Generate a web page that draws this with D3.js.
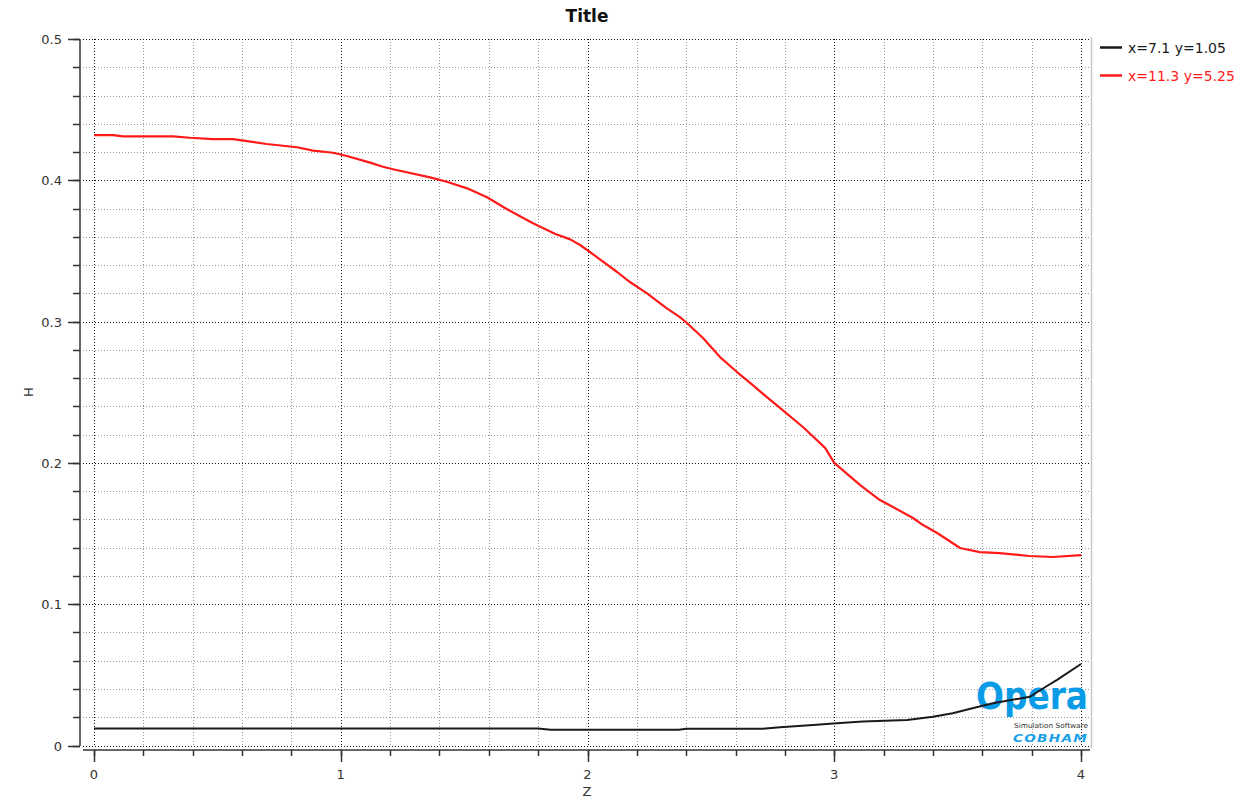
<!DOCTYPE html>
<html>
<head>
<meta charset="utf-8">
<script src="https://cdn.jsdelivr.net/npm/d3@7"></script>
<style>
  html, body { margin: 0; padding: 0; background: #fff; }
  svg { display: block; font-family: "DejaVu Sans", sans-serif; }
</style>
</head>
<body>
<svg id="chart" width="1258" height="802"></svg>
<script>
// Field profile H along Z at two (x, y) positions
const seriesNames = ["x=7.1 y=1.05", "x=11.3 y=5.25"];
const seriesColors = ["#1a1a1a", "#ff1a1a"];

const blackZ = [0, 0.5, 1.0, 1.5, 1.8, 1.85, 2.0, 2.37, 2.4, 2.71, 2.78, 2.915, 3.01, 3.116, 3.295, 3.40, 3.48, 3.56, 3.643, 3.793, 3.862, 3.903, 4.0];
const blackH = [0.012, 0.012, 0.012, 0.012, 0.012, 0.0112, 0.0112, 0.0112, 0.0118, 0.0118, 0.0129, 0.0145, 0.0157, 0.0169, 0.018, 0.0204, 0.0228, 0.0263, 0.0299, 0.0345, 0.0421, 0.0464, 0.0577];

const redZ = [0, 0.077, 0.118, 0.32, 0.389, 0.482, 0.563, 0.70, 0.823, 0.888, 0.969, 1.025, 1.119, 1.171, 1.212, 1.362, 1.43, 1.512, 1.593, 1.674, 1.779, 1.87, 1.93, 1.97, 2.038, 2.12, 2.172, 2.24, 2.32, 2.373, 2.403, 2.468, 2.537, 2.606, 2.67, 2.727, 2.78, 2.873, 2.963, 3.0, 3.104, 3.185, 3.238, 3.319, 3.36, 3.417, 3.51, 3.59, 3.67, 3.79, 3.886, 4.0];
const redH = [0.432, 0.432, 0.4311, 0.4311, 0.4301, 0.4292, 0.4292, 0.4257, 0.4234, 0.421, 0.4195, 0.4172, 0.4125, 0.4096, 0.4078, 0.4021, 0.399, 0.3943, 0.388, 0.3795, 0.3696, 0.362, 0.3582, 0.3542, 0.3457, 0.3351, 0.328, 0.3202, 0.3096, 0.3033, 0.299, 0.2884, 0.2749, 0.2643, 0.2551, 0.2465, 0.2389, 0.2254, 0.2106, 0.2, 0.1844, 0.1737, 0.1688, 0.161, 0.156, 0.1504, 0.1398, 0.1369, 0.1362, 0.1341, 0.1334, 0.1348];

const xMajorTicks = [0, 1, 2, 3, 4];
const xMinorTicks = d3.range(0, 4.0001, 0.2);
const yMajorTicks = [0, 0.1, 0.2, 0.3, 0.4, 0.5];
const yMinorTicks = d3.range(0, 0.5001, 0.02);

const svg = d3.select("#chart");

// plot frame
const frame = { left: 83, right: 1090, top: 39, bottom: 746 };
const x = d3.scaleLinear().domain([0, 4]).range([94, 1081]);
const y = d3.scaleLinear().domain([0, 0.5]).range([745.5, 39]);

// grid: minor first, majors on top
const grid = svg.append("g");
grid.selectAll("line.hmin").data(yMinorTicks).join("line")
  .attr("x1", frame.left).attr("x2", frame.right)
  .attr("y1", d => Math.round(y(d)) + 0.5).attr("y2", d => Math.round(y(d)) + 0.5)
  .attr("stroke", "#9a9a9a").attr("stroke-width", 1).attr("stroke-dasharray", "1,2");
grid.selectAll("line.vmin").data(xMinorTicks).join("line")
  .attr("y1", frame.top).attr("y2", frame.bottom)
  .attr("x1", d => Math.round(x(d)) + 0.5).attr("x2", d => Math.round(x(d)) + 0.5)
  .attr("stroke", "#9a9a9a").attr("stroke-width", 1).attr("stroke-dasharray", "1,2");
grid.selectAll("line.hmaj").data(yMajorTicks).join("line")
  .attr("x1", frame.left).attr("x2", frame.right)
  .attr("y1", d => Math.round(y(d)) + 0.5).attr("y2", d => Math.round(y(d)) + 0.5)
  .attr("stroke", "#111").attr("stroke-width", 1).attr("stroke-dasharray", "1,2");
grid.selectAll("line.vmaj").data(xMajorTicks).join("line")
  .attr("y1", frame.top).attr("y2", frame.bottom)
  .attr("x1", d => Math.round(x(d)) + 0.5).attr("x2", d => Math.round(x(d)) + 0.5)
  .attr("stroke", "#111").attr("stroke-width", 1).attr("stroke-dasharray", "1,2");

// right border of the plot
svg.append("line")
  .attr("x1", 1091.5).attr("x2", 1091.5).attr("y1", 37).attr("y2", 748)
  .attr("stroke", "#c8c8c8").attr("stroke-width", 1.5);

// Opera / Cobham logo in the lower right corner
const logo = svg.append("g");
logo.append("text")
  .attr("x", 976).attr("y", 709)
  .attr("textLength", 112).attr("lengthAdjust", "spacingAndGlyphs")
  .attr("font-size", 37).attr("font-weight", "bold")
  .attr("fill", "#0a9be6").text("Opera");
logo.append("text")
  .attr("x", 1014).attr("y", 728)
  .attr("textLength", 74).attr("lengthAdjust", "spacingAndGlyphs")
  .attr("font-size", 7).attr("fill", "#333").text("Simulation Software");
logo.append("text")
  .attr("x", 1013).attr("y", 742)
  .attr("textLength", 75).attr("lengthAdjust", "spacingAndGlyphs")
  .attr("font-size", 11).attr("font-weight", "bold").attr("font-style", "italic")
  .attr("letter-spacing", 1)
  .attr("fill", "#1aa0e8").text("COBHAM");

// y axis
const yAxis = svg.append("g").attr("transform", "translate(80,0)");
yAxis.append("line").attr("x1", 0).attr("x2", 0).attr("y1", frame.top).attr("y2", frame.bottom)
  .attr("stroke", "#333").attr("stroke-width", 1.5);
yAxis.selectAll("line.min").data(yMinorTicks).join("line")
  .attr("x1", -7).attr("x2", 0)
  .attr("y1", d => Math.round(y(d)) + 0.5).attr("y2", d => Math.round(y(d)) + 0.5)
  .attr("stroke", "#333").attr("stroke-width", 1.5);
yAxis.selectAll("line.maj").data(yMajorTicks).join("line")
  .attr("x1", -12).attr("x2", 0)
  .attr("y1", d => Math.round(y(d)) + 0.5).attr("y2", d => Math.round(y(d)) + 0.5)
  .attr("stroke", "#333").attr("stroke-width", 1.5);
yAxis.selectAll("text").data(yMajorTicks).join("text")
  .attr("x", -18).attr("y", d => y(d) + 5)
  .attr("text-anchor", "end").attr("font-size", 13).attr("fill", "#333")
  .text(d => d === 0 ? "0" : d3.format(".1f")(d));

// x axis
const xAxis = svg.append("g").attr("transform", "translate(0,750)");
xAxis.append("line").attr("x1", frame.left).attr("x2", frame.right).attr("y1", 0).attr("y2", 0)
  .attr("stroke", "#333").attr("stroke-width", 1.5);
xAxis.selectAll("line.min").data(xMinorTicks).join("line")
  .attr("x1", d => Math.round(x(d)) + 0.5).attr("x2", d => Math.round(x(d)) + 0.5)
  .attr("y1", 0).attr("y2", 6)
  .attr("stroke", "#333").attr("stroke-width", 1.5);
xAxis.selectAll("line.maj").data(xMajorTicks).join("line")
  .attr("x1", d => Math.round(x(d)) + 0.5).attr("x2", d => Math.round(x(d)) + 0.5)
  .attr("y1", 0).attr("y2", 12)
  .attr("stroke", "#333").attr("stroke-width", 1.5);
xAxis.selectAll("text").data(xMajorTicks).join("text")
  .attr("x", d => x(d)).attr("y", 29)
  .attr("text-anchor", "middle").attr("font-size", 13).attr("fill", "#333")
  .text(d => d);

// data lines
const line = d3.line().x(d => x(d[0])).y(d => y(d[1]));
const blackData = d3.zip(blackZ, blackH);
const redData = d3.zip(redZ, redH);
svg.append("path").datum(blackData).attr("d", line)
  .attr("fill", "none").attr("stroke", seriesColors[0]).attr("stroke-width", 2)
  .attr("stroke-linejoin", "round");
svg.append("path").datum(redData).attr("d", line)
  .attr("fill", "none").attr("stroke", seriesColors[1]).attr("stroke-width", 2.2)
  .attr("stroke-linejoin", "round");

// titles
svg.append("text").attr("x", 587).attr("y", 22).attr("text-anchor", "middle")
  .attr("font-size", 17).attr("font-weight", "bold").attr("fill", "#111").text("Title");
svg.append("text").attr("x", 587).attr("y", 796).attr("text-anchor", "middle")
  .attr("font-size", 13).attr("fill", "#333").text("Z");
svg.append("text").attr("transform", "translate(33,392) rotate(-90)")
  .attr("text-anchor", "middle").attr("font-size", 13).attr("fill", "#333").text("H");

// legend
const legend = svg.append("g");
const legendY = [47.5, 75.5];
seriesNames.forEach((name, i) => {
  legend.append("line").attr("x1", 1100).attr("x2", 1122)
    .attr("y1", legendY[i]).attr("y2", legendY[i])
    .attr("stroke", seriesColors[i]).attr("stroke-width", 2.5);
  legend.append("text").attr("x", 1128).attr("y", legendY[i] + 5)
    .attr("font-size", 14).attr("fill", seriesColors[i]).text(name);
});
</script>
</body>
</html>
